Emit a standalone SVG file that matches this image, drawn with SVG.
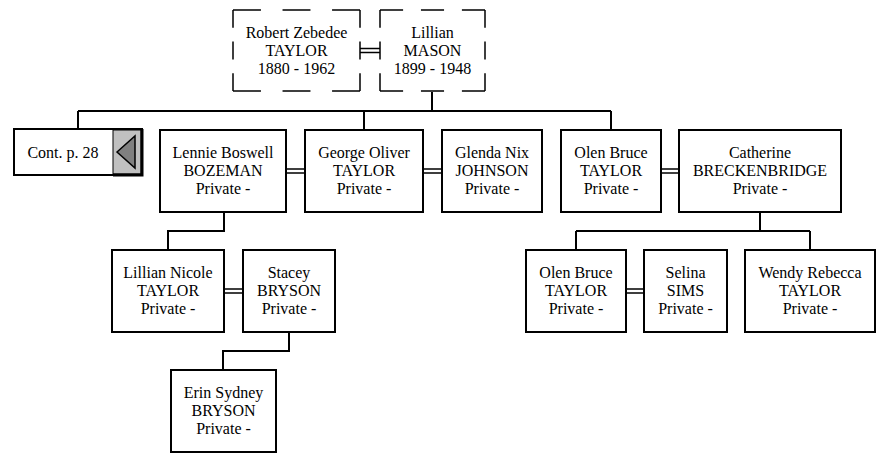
<svg xmlns="http://www.w3.org/2000/svg" width="877" height="457" viewBox="0 0 877 457">
<style>
  .box { fill: #ffffff; stroke: #000000; stroke-width: 2; }
  .dash { fill: none; stroke: #000000; stroke-width: 1.5; stroke-dasharray: 2.2 1.7; }
  .conn { fill: none; stroke: #000000; stroke-width: 2; }
  .marr { fill: none; stroke: #000000; stroke-width: 1.5; }
</style>
<rect width="877" height="457" fill="#ffffff"/>
<g id="connectors">
  <path class="conn" d="M432,92 V111 M78,111 H611 M78,111 V129 M364,111 V130 M611,111 V130"/>
  <path class="conn" d="M224,212 V231 H168 V250"/>
  <path class="conn" d="M289,332 V351 H223 V370"/>
  <path class="conn" d="M760,212 V231 M576,231 H810 M576,231 V250 M810,231 V250"/>
  <path class="marr" d="M360,48.5 H380 M360,52.5 H380"/>
  <path class="marr" d="M286,169 H305 M286,173 H305"/>
  <path class="marr" d="M423,169 H442 M423,173 H442"/>
  <path class="marr" d="M661,169 H679 M661,173 H679"/>
  <path class="marr" d="M224,289 H243 M224,293 H243"/>
  <path class="marr" d="M626,289 H644 M626,293 H644"/>
</g>
<g font-family="'Liberation Serif', 'DejaVu Serif', 'Times New Roman', serif" font-size="16" text-anchor="middle" fill="#000000">
<g id="robert">
  <path class="dash" pathLength="10" d="M233,10 H360"/>
  <path class="dash" pathLength="10" d="M360,10 V91"/>
  <path class="dash" pathLength="10" d="M360,91 H233"/>
  <path class="dash" pathLength="10" d="M233,91 V10"/>
  <text x="296.5" y="38">Robert Zebedee</text>
  <text x="296.5" y="56">TAYLOR</text>
  <text x="296.5" y="74">1880 - 1962</text>
</g>
<g id="lillian">
  <path class="dash" pathLength="10" d="M380,10 H485"/>
  <path class="dash" pathLength="10" d="M485,10 V91"/>
  <path class="dash" pathLength="10" d="M485,91 H380"/>
  <path class="dash" pathLength="10" d="M380,91 V10"/>
  <text x="432.5" y="38">Lillian</text>
  <text x="432.5" y="56">MASON</text>
  <text x="432.5" y="74">1899 - 1948</text>
</g>
<g id="cont">
  <rect class="box" x="14" y="129" width="128" height="46"/>
  <rect x="113" y="130" width="28" height="44" fill="#c0c0c0" stroke="#000000" stroke-width="1"/>
  <path d="M142,129 V175 H113" fill="none" stroke="#000000" stroke-width="3"/>
  <polygon points="117,152 135,136 135,168" fill="#808080" stroke="#000000" stroke-width="1.5"/>
  <text x="63" y="158">Cont. p. 28</text>
</g>
<g id="lennie">
  <rect class="box" x="160" y="130" width="126" height="82"/>
  <text x="223" y="158">Lennie Boswell</text>
  <text x="223" y="176">BOZEMAN</text>
  <text x="223" y="194">Private -</text>
</g>
<g id="george">
  <rect class="box" x="305" y="130" width="118" height="82"/>
  <text x="364" y="158">George Oliver</text>
  <text x="364" y="176">TAYLOR</text>
  <text x="364" y="194">Private -</text>
</g>
<g id="glenda">
  <rect class="box" x="442" y="130" width="100" height="82"/>
  <text x="492" y="158">Glenda Nix</text>
  <text x="492" y="176">JOHNSON</text>
  <text x="492" y="194">Private -</text>
</g>
<g id="olen">
  <rect class="box" x="561" y="130" width="100" height="82"/>
  <text x="611" y="158">Olen Bruce</text>
  <text x="611" y="176">TAYLOR</text>
  <text x="611" y="194">Private -</text>
</g>
<g id="catherine">
  <rect class="box" x="679" y="130" width="162" height="82"/>
  <text x="760" y="158">Catherine</text>
  <text x="760" y="176">BRECKENBRIDGE</text>
  <text x="760" y="194">Private -</text>
</g>
<g id="lilliannicole">
  <rect class="box" x="112" y="250" width="112" height="82"/>
  <text x="168" y="278">Lillian Nicole</text>
  <text x="168" y="296">TAYLOR</text>
  <text x="168" y="314">Private -</text>
</g>
<g id="stacey">
  <rect class="box" x="243" y="250" width="92" height="82"/>
  <text x="289" y="278">Stacey</text>
  <text x="289" y="296">BRYSON</text>
  <text x="289" y="314">Private -</text>
</g>
<g id="erin">
  <rect class="box" x="171" y="370" width="105" height="82"/>
  <text x="223.5" y="398">Erin Sydney</text>
  <text x="223.5" y="416">BRYSON</text>
  <text x="223.5" y="434">Private -</text>
</g>
<g id="olen2">
  <rect class="box" x="526" y="250" width="100" height="82"/>
  <text x="576" y="278">Olen Bruce</text>
  <text x="576" y="296">TAYLOR</text>
  <text x="576" y="314">Private -</text>
</g>
<g id="selina">
  <rect class="box" x="644" y="250" width="83" height="82"/>
  <text x="685.5" y="278">Selina</text>
  <text x="685.5" y="296">SIMS</text>
  <text x="685.5" y="314">Private -</text>
</g>
<g id="wendy">
  <rect class="box" x="745" y="250" width="130" height="82"/>
  <text x="810" y="278">Wendy Rebecca</text>
  <text x="810" y="296">TAYLOR</text>
  <text x="810" y="314">Private -</text>
</g>
</g>
</svg>
